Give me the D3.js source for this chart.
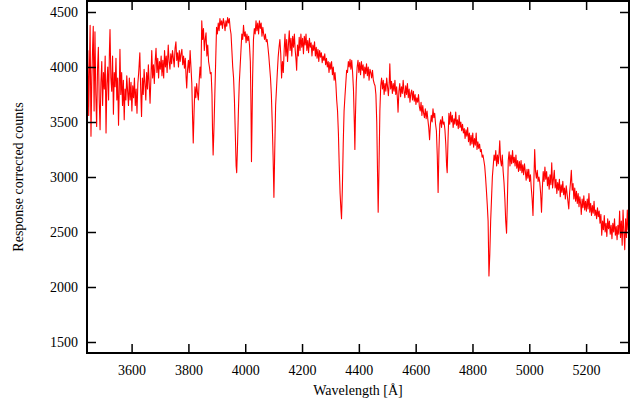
<!DOCTYPE html>
<html>
<head>
<meta charset="utf-8">
<script src="https://cdn.jsdelivr.net/npm/d3@7"></script>
<style>
  body { margin: 0; background: #fff; }
  svg text { font-family: "Liberation Serif", "Times New Roman", Times, serif; }
</style>
</head>
<body>
<div id="chart"></div>
<script>
// Spectrum: [wavelength in Angstrom, response corrected counts]
const spectrum = [
  [3443,3720],[3446,4150],[3449,3560],[3452,4060],[3454,4380],[3457,3370],[3460,3900],[3463,4200],[3465,4370],[3468,3600],
  [3471,4320],[3474,3750],[3477,3460],[3480,3980],[3483,4180],[3486,3700],[3489,3430],[3492,3860],[3495,4050],[3498,3650],
  [3501,3950],[3504,3800],[3507,4100],[3510,3400],[3513,3850],[3516,4000],[3519,3700],[3522,4150],[3524,4340],[3527,3900],
  [3530,3780],[3533,4100],[3536,3570],[3539,3950],[3542,3820],[3545,4080],[3548,3700],[3551,3900],[3554,3470],[3557,3850],
  [3559,4160],[3562,3750],[3565,3950],[3568,3650],[3571,3880],[3574,3520],[3577,3800],[3580,3700],[3583,3920],[3586,3780],
  [3589,3650],[3592,3900],[3595,3700],[3598,3860],[3601,3600],[3604,3830],[3607,3720],[3610,3900],[3613,3650],[3616,3800],
  [3619,3580],[3622,3850],[3625,3950],[3629,4130],[3632,3800],[3635,3550],[3638,3900],[3641,3750],[3644,3980],[3647,3850],
  [3650,3700],[3653,3950],[3656,3800],[3659,4020],[3662,3850],[3665,3670],[3668,3900],[3671,4150],[3674,3900],[3677,4020],
  [3680,3850],[3683,4050],[3686,4170],[3689,3950],[3692,4080],[3695,3900],[3698,4050],[3701,3980],[3704,4100],[3707,3920],
  [3710,4060],[3713,3900],[3716,4150],[3719,4000],[3722,4100],[3725,3950],[3729,4200],[3732,4050],[3735,3980],[3738,4120],
  [3741,4030],[3744,4150],[3747,4080],[3750,4000],[3753,4170],[3756,4230],[3759,4060],[3762,4130],[3765,4000],[3768,4150],
  [3771,4050],[3774,4120],[3777,4160],[3780,4020],[3783,4100],[3786,3990],[3789,4080],[3792,3900],[3794,3810],[3797,3980],
  [3800,4060],[3803,3950],[3806,4150],[3809,4000],[3812,3850],[3815,3500],[3817,3310],[3820,3600],[3823,3820],[3826,3720],
  [3829,3850],[3832,3760],[3835,3700],[3838,3880],[3841,4000],[3844,3900],[3847,4420],[3850,4250],[3853,4350],[3856,4150],
  [3859,4250],[3862,4310],[3865,4100],[3868,4200],[3871,4050],[3874,4000],[3877,3940],[3880,3950],[3883,3750],[3885,3400],
  [3887,3200],[3890,3450],[3893,3750],[3896,4050],[3899,4360],[3902,4300],[3905,4400],[3908,4330],[3911,4440],[3914,4380],
  [3917,4420],[3920,4350],[3923,4440],[3926,4400],[3929,4330],[3932,4420],[3935,4370],[3938,4450],[3941,4400],[3944,4440],
  [3947,4350],[3950,4300],[3953,4150],[3956,4000],[3959,3900],[3962,3700],[3965,3400],[3968,3100],[3970,3040],[3973,3300],
  [3976,3600],[3979,3850],[3982,4000],[3985,4150],[3988,4300],[3991,4250],[3994,4380],[3997,4280],[4000,4320],[4003,4220],
  [4006,4300],[4009,4240],[4012,4280],[4015,4200],[4018,4050],[4020,3700],[4022,3140],[4024,3500],[4026,3900],[4029,4250],
  [4032,4350],[4035,4300],[4038,4420],[4041,4330],[4044,4400],[4047,4300],[4050,4420],[4053,4350],[4056,4400],[4059,4280],
  [4062,4360],[4065,4300],[4068,4250],[4071,4300],[4074,4230],[4077,4250],[4080,4180],[4083,4100],[4086,4000],[4089,3900],
  [4092,3750],[4095,3500],[4098,3200],[4101,2815],[4104,3250],[4107,3650],[4110,3800],[4113,3950],[4116,4090],[4119,4180],
  [4122,4250],[4125,4120],[4128,3900],[4131,4050],[4134,3950],[4137,4150],[4140,4300],[4143,4100],[4146,4250],[4149,4050],
  [4152,4200],[4155,4330],[4158,4150],[4161,4260],[4164,4100],[4167,4280],[4170,4180],[4173,4300],[4176,4150],[4179,4060],
  [4181,3970],[4184,4200],[4187,4100],[4190,4270],[4193,4150],[4196,4300],[4199,4180],[4202,4260],[4205,4120],[4208,4280],
  [4211,4200],[4214,4300],[4217,4150],[4220,4240],[4223,4130],[4226,4260],[4229,4180],[4232,4220],[4235,4100],[4238,4200],
  [4241,4150],[4244,4230],[4247,4100],[4250,4180],[4253,4080],[4256,4160],[4259,4050],[4262,4150],[4265,4090],[4268,4130],
  [4271,4040],[4274,4100],[4277,4060],[4280,4120],[4283,4020],[4286,4080],[4289,4000],[4292,4050],[4295,3950],[4298,4040],
  [4301,3980],[4304,4050],[4307,3930],[4310,4000],[4313,3880],[4316,3950],[4319,3850],[4322,3700],[4325,3600],[4328,3400],
  [4331,3100],[4334,2850],[4337,2700],[4339,2620],[4342,2900],[4345,3300],[4348,3600],[4351,3730],[4354,3850],[4357,3970],
  [4360,3950],[4363,4050],[4366,4000],[4369,4070],[4372,3980],[4375,4060],[4378,3950],[4381,3800],[4384,3500],[4386,3250],
  [4388,3550],[4391,3860],[4394,4000],[4397,4060],[4400,3950],[4403,4040],[4406,3930],[4409,4050],[4412,3970],[4415,4020],
  [4418,3900],[4421,4000],[4424,3940],[4427,4030],[4430,3920],[4433,4000],[4436,3880],[4439,3980],[4442,3950],[4445,3900],
  [4448,3970],[4451,3880],[4454,3850],[4457,3830],[4460,3750],[4463,3500],[4466,3000],[4468,2680],[4471,3100],[4474,3600],
  [4477,3830],[4480,3900],[4483,3800],[4486,3880],[4489,3750],[4492,3850],[4495,3780],[4498,3900],[4501,3820],[4504,3740],
  [4507,3860],[4509,4030],[4512,3800],[4515,3870],[4518,3760],[4521,3850],[4524,3780],[4527,3880],[4530,3750],[4533,3820],
  [4536,3700],[4538,3590],[4541,3780],[4544,3850],[4547,3730],[4550,3820],[4553,3760],[4556,3880],[4559,3780],[4562,3720],
  [4565,3830],[4568,3750],[4571,3850],[4574,3720],[4577,3800],[4580,3680],[4583,3760],[4586,3790],[4589,3700],[4592,3780],
  [4595,3690],[4598,3750],[4601,3660],[4604,3720],[4607,3680],[4610,3750],[4613,3640],[4616,3600],[4619,3680],[4622,3560],
  [4625,3650],[4628,3580],[4631,3540],[4634,3620],[4637,3530],[4640,3600],[4643,3520],[4646,3450],[4649,3340],[4652,3480],
  [4655,3560],[4658,3500],[4661,3620],[4664,3540],[4667,3580],[4670,3480],[4673,3420],[4676,3200],[4679,2860],[4682,3250],
  [4685,3480],[4688,3520],[4691,3450],[4694,3550],[4697,3480],[4700,3500],[4703,3430],[4706,3300],[4709,3100],[4711,3040],
  [4714,3350],[4717,3580],[4720,3480],[4723,3590],[4726,3500],[4729,3560],[4732,3450],[4735,3530],[4738,3480],[4741,3590],
  [4744,3470],[4747,3520],[4750,3440],[4753,3560],[4756,3450],[4759,3500],[4762,3420],[4765,3480],[4768,3400],[4771,3440],
  [4774,3350],[4777,3430],[4780,3370],[4783,3450],[4786,3320],[4789,3400],[4792,3290],[4795,3380],[4798,3300],[4801,3400],
  [4804,3270],[4807,3350],[4810,3290],[4813,3400],[4816,3250],[4819,3320],[4822,3260],[4825,3300],[4828,3230],[4831,3250],
  [4834,3180],[4837,3200],[4840,3150],[4843,3100],[4846,3000],[4849,2880],[4852,2750],[4855,2600],[4858,2100],[4861,2300],
  [4864,2600],[4867,2800],[4870,3000],[4873,3100],[4876,3200],[4879,3150],[4882,3240],[4885,3100],[4888,3200],[4891,3120],
  [4894,3230],[4896,3330],[4899,3150],[4902,3100],[4905,3200],[4908,3050],[4911,2950],[4914,2800],[4917,2600],[4920,2490],
  [4923,2800],[4926,3150],[4929,3230],[4932,3100],[4935,3200],[4938,3120],[4941,3240],[4944,3130],[4947,3180],[4950,3100],
  [4953,3200],[4956,3080],[4959,3150],[4962,3050],[4965,3140],[4968,3060],[4971,3150],[4974,3040],[4977,3110],[4980,3020],
  [4983,3120],[4986,3050],[4989,2970],[4992,3070],[4995,2990],[4998,3070],[5001,2960],[5004,3020],[5007,2900],[5010,2800],
  [5013,2650],[5016,2950],[5019,3250],[5022,3050],[5025,2990],[5028,3060],[5031,2960],[5034,3000],[5037,2950],[5040,2850],
  [5043,2680],[5046,2900],[5049,3050],[5052,2960],[5055,3090],[5058,2980],[5061,3050],[5064,2920],[5067,3000],[5070,2890],
  [5073,3020],[5076,2930],[5079,3130],[5082,2900],[5085,2980],[5088,3060],[5091,2900],[5094,2980],[5097,2850],[5100,2950],
  [5103,2880],[5106,2980],[5109,2820],[5112,2930],[5115,2860],[5118,2960],[5121,2840],[5124,2900],[5127,2800],[5130,2920],
  [5133,2850],[5136,2780],[5139,2710],[5142,2860],[5145,2950],[5148,3060],[5151,2880],[5154,2940],[5157,2800],[5160,2900],
  [5163,2780],[5166,2870],[5169,2760],[5172,2850],[5175,2730],[5178,2820],[5181,2750],[5183,2660],[5186,2800],[5189,2720],
  [5192,2830],[5195,2700],[5198,2780],[5201,2690],[5204,2800],[5207,2710],[5210,2850],[5213,2680],[5216,2760],[5219,2650],
  [5222,2740],[5225,2670],[5228,2780],[5231,2650],[5234,2700],[5237,2620],[5240,2720],[5243,2640],[5246,2690],[5249,2580],
  [5252,2660],[5255,2470],[5258,2600],[5261,2520],[5264,2650],[5267,2500],[5270,2580],[5273,2460],[5276,2620],[5279,2530],
  [5282,2600],[5285,2480],[5288,2560],[5291,2440],[5294,2580],[5297,2500],[5300,2620],[5303,2470],[5306,2550],[5309,2430],
  [5312,2560],[5315,2480],[5318,2690],[5321,2450],[5324,2600],[5327,2380],[5330,2700],[5333,2500],[5336,2340],[5339,2620],
  [5342,2450],[5345,2700],[5348,2520],[5351,2560]
];

const xDomain = [3443, 5351];
const yDomain = [1400, 4600];
const xTicks = [3600, 3800, 4000, 4200, 4400, 4600, 4800, 5000, 5200];
const yTicks = [1500, 2000, 2500, 3000, 3500, 4000, 4500];
const xTitle = "Wavelength [Å]";
const yTitle = "Response corrected counts";

const width = 640;
const height = 403;
const marginTop = 1;
const marginRight = 11;
const marginBottom = 50;
const marginLeft = 87;
const tickLen = 9;
const fontSize = 14;
const serif = "'Liberation Serif', 'Times New Roman', Times, serif";

const x = d3.scaleLinear()
  .domain(xDomain)
  .range([marginLeft, width - marginRight]);

const y = d3.scaleLinear()
  .domain(yDomain)
  .range([height - marginBottom, marginTop]);

const svg = d3.select("#chart").append("svg")
  .attr("width", width)
  .attr("height", height)
  .attr("viewBox", [0, 0, width, height]);

// spectrum line, clipped to the frame
svg.append("clipPath").attr("id", "clip")
  .append("rect")
  .attr("x", marginLeft).attr("y", marginTop)
  .attr("width", width - marginRight - marginLeft)
  .attr("height", height - marginBottom - marginTop);

svg.append("path")
  .datum(spectrum)
  .attr("clip-path", "url(#clip)")
  .attr("fill", "none")
  .attr("stroke", "#ff0000")
  .attr("stroke-width", 1.1)
  .attr("stroke-linejoin", "round")
  .attr("d", d3.line().x(d => x(d[0])).y(d => y(d[1])));

// axes: ticks point inward, mirrored on top and right
const styleAxis = g => {
  g.select(".domain").remove();
  g.selectAll(".tick line").attr("stroke", "#000").attr("stroke-width", 1.5);
  g.selectAll(".tick text")
    .attr("fill", "#000")
    .style("font-size", fontSize + "px")
    .style("font-family", serif);
};

svg.append("g")
  .attr("transform", `translate(0,${height - marginBottom})`)
  .call(d3.axisBottom(x).tickValues(xTicks).tickFormat(d3.format("d")).tickSizeInner(-tickLen).tickSizeOuter(0).tickPadding(12))
  .call(styleAxis);

svg.append("g")
  .attr("transform", `translate(0,${marginTop})`)
  .call(d3.axisTop(x).tickValues(xTicks).tickFormat("").tickSizeInner(-tickLen).tickSizeOuter(0))
  .call(styleAxis);

svg.append("g")
  .attr("transform", `translate(${marginLeft},0)`)
  .call(d3.axisLeft(y).tickValues(yTicks).tickFormat(d3.format("d")).tickSizeInner(-tickLen).tickSizeOuter(0).tickPadding(9))
  .call(styleAxis);

svg.append("g")
  .attr("transform", `translate(${width - marginRight},0)`)
  .call(d3.axisRight(y).tickValues(yTicks).tickFormat("").tickSizeInner(-tickLen).tickSizeOuter(0))
  .call(styleAxis);

// frame
svg.append("rect")
  .attr("x", marginLeft)
  .attr("y", marginTop)
  .attr("width", width - marginRight - marginLeft)
  .attr("height", height - marginBottom - marginTop)
  .attr("fill", "none")
  .attr("stroke", "#000")
  .attr("stroke-width", 2);

// axis titles
svg.append("text")
  .attr("x", (marginLeft + width - marginRight) / 2)
  .attr("y", 395)
  .attr("text-anchor", "middle")
  .style("font-size", fontSize + "px")
  .style("font-family", serif)
  .text(xTitle);

svg.append("text")
  .attr("transform", `translate(23,${(marginTop + height - marginBottom) / 2}) rotate(-90)`)
  .attr("text-anchor", "middle")
  .style("font-size", fontSize + "px")
  .style("font-family", serif)
  .text(yTitle);
</script>
</body>
</html>
